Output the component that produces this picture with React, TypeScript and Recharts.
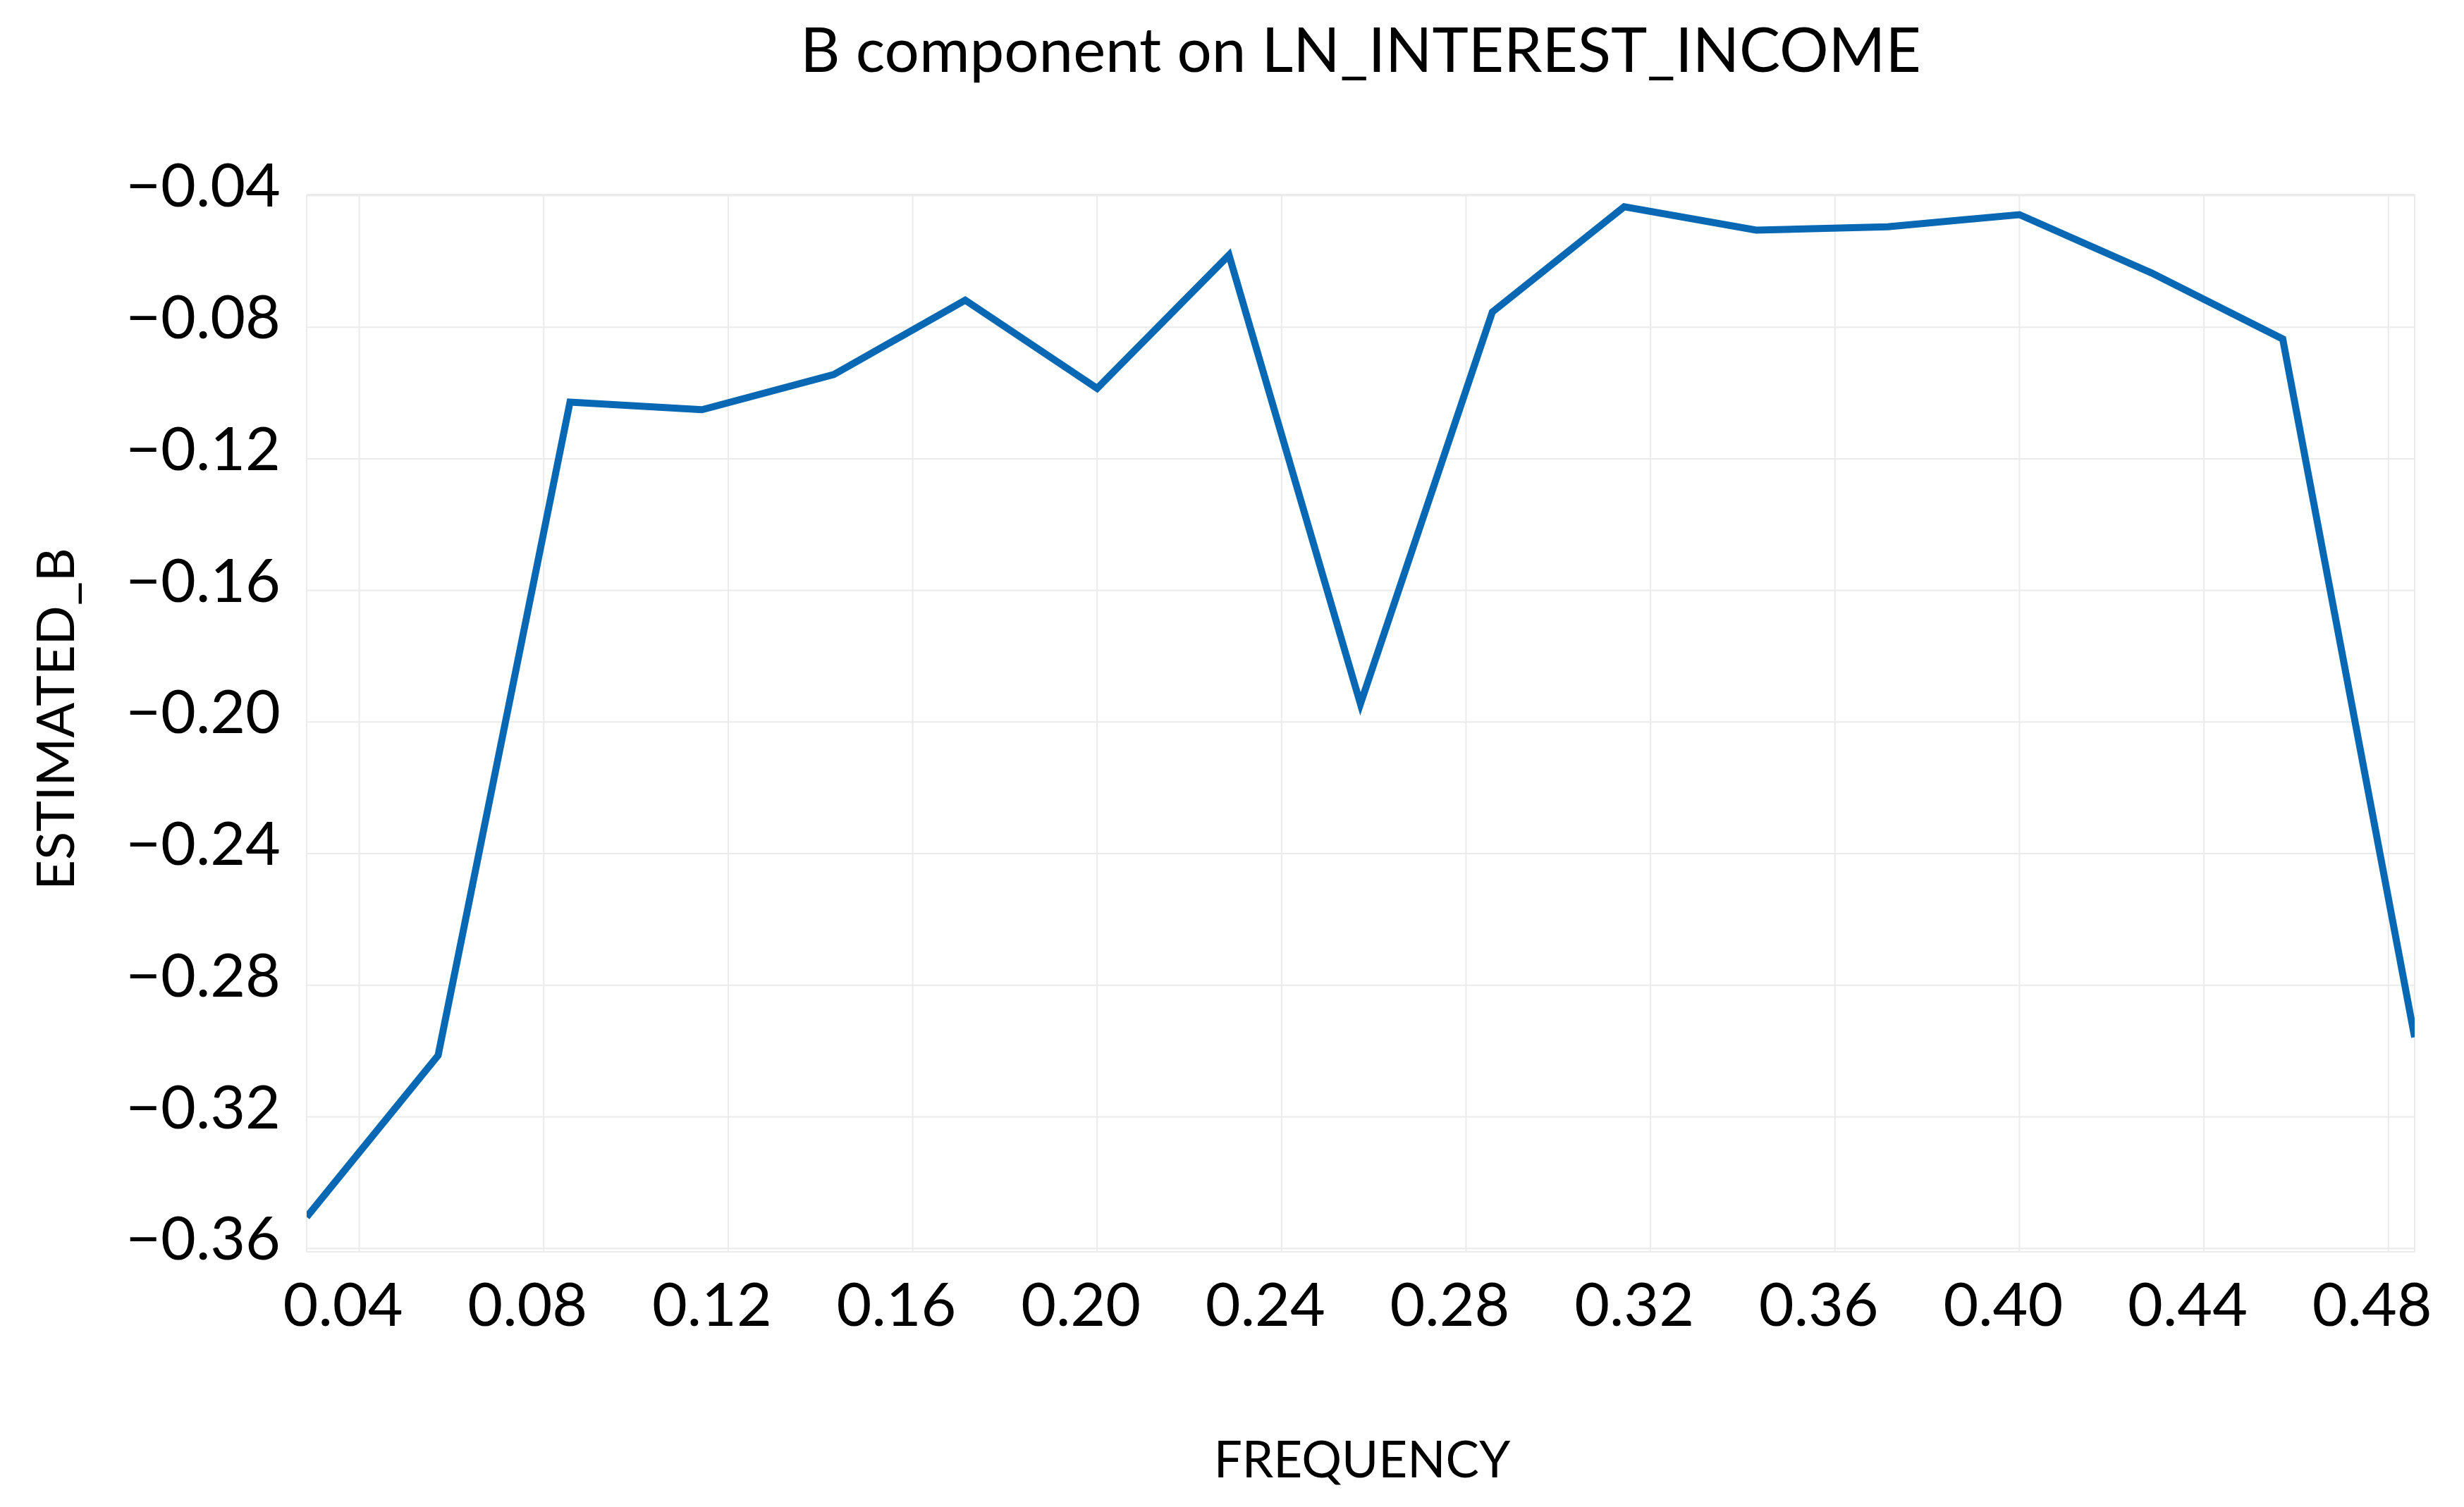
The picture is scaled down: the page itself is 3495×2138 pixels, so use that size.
import React from "react";
import { LineChart, Line, XAxis, YAxis, CartesianGrid, Label } from "recharts";

const frequency = [
  0.0286, 0.0571, 0.0857, 0.1143, 0.1429, 0.1714, 0.2, 0.2286, 0.2571,
  0.2857, 0.3143, 0.3429, 0.3714, 0.4, 0.4286, 0.4571, 0.4857,
];
const estimatedB = [
  -0.3504, -0.3013, -0.1028, -0.1051, -0.0944, -0.0718, -0.0986, -0.0581,
  -0.1945, -0.0754, -0.0434, -0.0505, -0.0495, -0.0458, -0.0635, -0.0836,
  -0.2958,
];
const xTicks = [0.04, 0.08, 0.12, 0.16, 0.2, 0.24, 0.28, 0.32, 0.36, 0.4, 0.44, 0.48];
const yTicks = [-0.36, -0.32, -0.28, -0.24, -0.2, -0.16, -0.12, -0.08, -0.04];

const data = frequency.map((f, i) => ({ f, b: estimatedB[i] }));

const FONT = "Lato, 'Open Sans', sans-serif";
const fmt = (v: number) => (v < 0 ? "\u2212" : "") + Math.abs(v).toFixed(2);

const XTick = ({ x, y, payload }: any) => (
  <text x={x - 23} y={y + 105} textAnchor="middle" fontSize={86} fontFamily={FONT} fill="#000">
    {payload.value.toFixed(2)}
  </text>
);

const YTick = ({ x, y, payload }: any) => (
  <text x={x - 37} y={y + 16} textAnchor="end" fontSize={86} fontFamily={FONT} fill="#000">
    {fmt(payload.value)}
  </text>
);

const App = () => (
  <div style={{ position: "absolute", left: 0, top: 0, background: "#fff" }}>
    <LineChart
      width={3495}
      height={2138}
      data={data}
      margin={{ top: 276, right: 70, bottom: 0, left: 0 }}
    >
      <CartesianGrid stroke="#ebebeb" strokeWidth={2} />
      <XAxis
        dataKey="f"
        type="number"
        domain={[0.0286, 0.4857]}
        allowDataOverflow
        ticks={xTicks}
        interval={0}
        height={362}
        axisLine={false}
        tickLine={false}
        tickSize={0}
        tickMargin={0}
        tick={<XTick />}
      >
        <Label
          content={() => (
            <text x={1932} y={2096} textAnchor="middle" fontSize={71} fontFamily={FONT} fill="#000">
              FREQUENCY
            </text>
          )}
        />
        <Label
          content={() => (
            <text x={1930} y={102} textAnchor="middle" fontSize={87} fontFamily={FONT} fill="#000">
              B component on LN_INTEREST_INCOME
            </text>
          )}
        />
      </XAxis>
      <YAxis
        type="number"
        domain={[-0.361, -0.0397]}
        allowDataOverflow
        ticks={yTicks}
        interval={0}
        width={435}
        axisLine={false}
        tickLine={false}
        tickSize={0}
        tickMargin={0}
        tick={<YTick />}
      >
        <Label
          content={() => (
            <text
              x={105}
              y={1020}
              transform="rotate(-90 105 1020)"
              textAnchor="middle"
              fontSize={74}
              fontFamily={FONT}
              fill="#000"
            >
              ESTIMATED_B
            </text>
          )}
        />
      </YAxis>
      <Line
        type="linear"
        dataKey="b"
        stroke="#0868b3"
        strokeWidth={10}
        dot={false}
        activeDot={false}
        isAnimationActive={false}
      />
    </LineChart>
  </div>
);

export default App;
